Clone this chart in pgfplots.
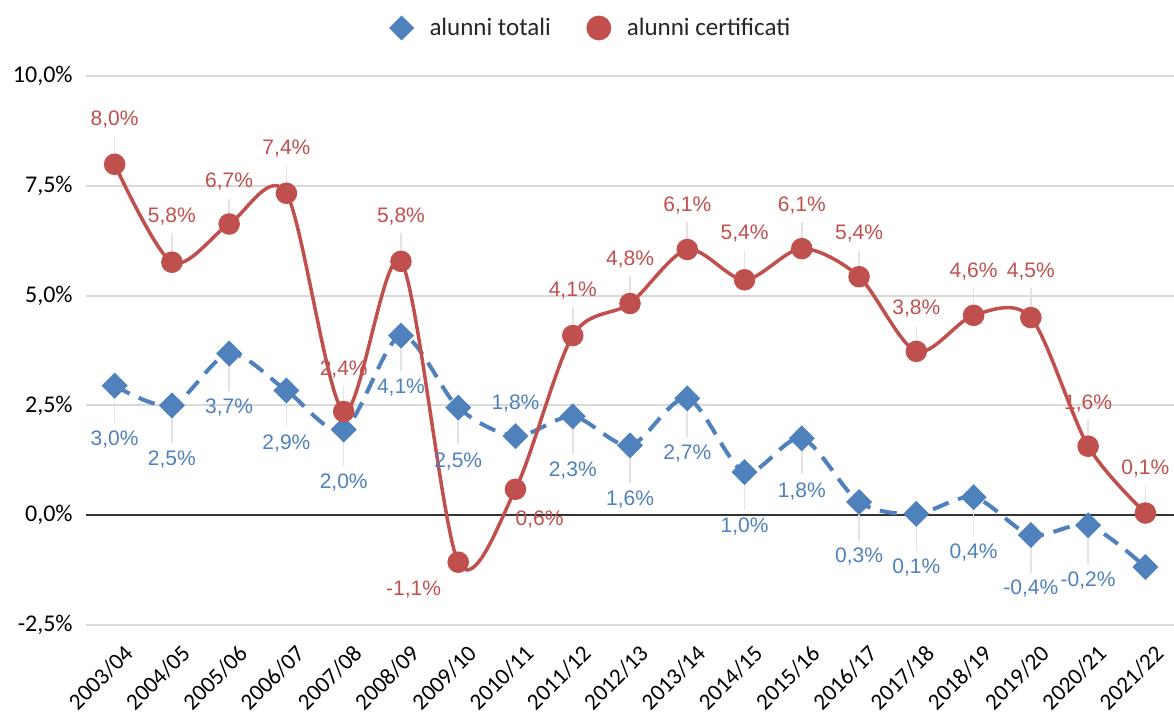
\documentclass[border=0pt]{standalone}
\usepackage{fontspec}
\setmainfont{Carlito}
\newfontfamily\labfont{Liberation Sans}
\usepackage{pgfplots}
\pgfplotsset{compat=1.18}
\usepackage{pgfplotstable}
\definecolor{cblue}{HTML}{4F81BD}
\definecolor{cred}{HTML}{C0504D}
\definecolor{cgrid}{HTML}{D9D9D9}
\definecolor{clead}{HTML}{E4E4E4}
\definecolor{ctext}{HTML}{262626}

\pgfplotstableread{
x y
0 2.95
1 2.50
2 3.68
3 2.84
4 1.95
5 4.09
6 2.45
7 1.80
8 2.25
9 1.59
10 2.66
11 0.98
12 1.75
13 0.30
14 0.03
15 0.41
16 -0.45
17 -0.23
18 -1.18
}\bluedata

\pgfplotstableread{
x y
0 7.99
1 5.76
2 6.63
3 7.33
4 2.36
5 5.78
6 -1.07
7 0.59
8 4.09
9 4.82
10 6.05
11 5.36
12 6.07
13 5.43
14 3.73
15 4.55
16 4.50
17 1.57
18 0.05
}\reddata

\pgfplotstableread{
x y t
0 9.02 8,0
1 6.80 5,8
2 7.59 6,7
3 8.34 7,4
4 3.32 2,4
5 6.80 5,8
5.22 -1.70 -1,1
7.42 -0.09 0,6
8 5.11 4,1
9 5.82 4,8
10 7.05 6,1
11 6.41 5,4
12 7.05 6,1
13 6.41 5,4
14 4.70 3,8
15 5.55 4,6
16 5.55 4,5
17 2.55 1,6
18 1.07 0,1
}\redlab

\pgfplotstableread{
x y t
0 1.73 3,0
1 1.27 2,5
2 2.45 3,7
3 1.64 2,9
4 0.75 2,0
5 2.90 4,1
6 1.23 2,5
7 2.55 1,8
8 1.02 2,3
9 0.36 1,6
10 1.41 2,7
11 -0.25 1,0
12 0.55 1,8
13 -0.95 0,3
14 -1.18 0,1
15 -0.84 0,4
16 -1.68 -0,4
17 -1.48 -0,2
}\bluelab

% leader lines: x, middle, half length
\pgfplotstableread{
x m e
0 8.32 0.32
1 6.10 0.32
2 6.93 0.28
3 7.65 0.31
4 2.65 0.29
5 6.10 0.32
8 4.41 0.32
9 5.13 0.31
10 6.36 0.31
11 5.69 0.33
12 6.37 0.30
13 5.72 0.30
14 4.03 0.30
15 4.86 0.31
16 4.84 0.33
17 1.87 0.30
18 0.37 0.32
}\redlead

\pgfplotstableread{
x m e
0 2.53 0.42
1 2.07 0.43
2 3.26 0.43
3 2.43 0.41
4 1.54 0.41
5 3.69 0.41
6 2.03 0.42
8 1.83 0.43
9 1.17 0.43
10 2.23 0.44
11 0.56 0.43
12 1.34 0.41
13 -0.14 0.44
14 -0.39 0.43
15 -0.03 0.44
16 -0.88 0.43
17 -0.67 0.44
}\bluelead

\begin{document}
\begin{tikzpicture}
\begin{axis}[
  name=ax,
  at={(0,0)}, anchor=south west,
  width=544pt, height=274.5pt, scale only axis,
  xmin=-0.5, xmax=18.5, ymin=-2.5, ymax=10,
  axis line style={draw=none},
  major tick length=0pt,
  xtick={0,...,18},
  xticklabels={2003/04,2004/05,2005/06,2006/07,2007/08,2008/09,2009/10,2010/11,2011/12,2012/13,2013/14,2014/15,2015/16,2016/17,2017/18,2018/19,2019/20,2020/21,2021/22},
  xticklabel style={rotate=45, anchor=north east, inner sep=0pt, xshift=-3.5pt, yshift=-9.2pt, font=\fontsize{11.6}{13}\selectfont, text=black},
  ytick={-2.5,0,2.5,5,7.5,10},
  yticklabels={{-2,5\%},{0,0\%},{2,5\%},{5,0\%},{7,5\%},{10,0\%}},
  yticklabel style={inner sep=0pt, xshift=-6.5pt, font=\fontsize{12}{14}\selectfont, text=black},
  ymajorgrids, major grid style={cgrid, line width=1pt},
  extra y ticks={0}, extra y tick labels={},
  extra y tick style={grid=major, major grid style={black!80, line width=1pt}},
  legend columns=2,
  legend style={at={(0.5,1)}, anchor=center, xshift=-19pt, yshift=24pt, draw=none, fill=none,
    font=\fontsize{12.5}{14}\selectfont, text=ctext,
    /tikz/every odd column/.append style={column sep=6pt},
    /tikz/every even column/.append style={column sep=16pt}},
]
% leader lines
\addplot[forget plot, draw=none, mark=none,
  error bars/.cd, y dir=both, y explicit, error mark=none,
  error bar style={clead, line width=0.8pt}]
  table[x=x, y=m, y error=e]{\redlead};
\addplot[forget plot, draw=none, mark=none,
  error bars/.cd, y dir=both, y explicit, error mark=none,
  error bar style={clead, line width=0.8pt}]
  table[x=x, y=m, y error=e]{\bluelead};
% series
\addplot[forget plot, cblue, line width=2pt, dash pattern=on 8.5pt off 5pt, smooth, tension=0.5,
  mark=square*, mark size=3.6pt, mark options={rotate=45, solid, fill=cblue, draw=cblue}]
  table[x=x, y=y]{\bluedata};
\addplot[forget plot, cred, line width=1.75pt, smooth, tension=0.5,
  mark=*, mark size=4.5pt, mark options={solid, fill=cred, draw=cred}]
  table[x=x, y=y]{\reddata};
% labels
\addplot[forget plot, draw=none, mark=none, point meta=explicit symbolic,
  nodes near coords={\pgfplotspointmeta\%}, nodes near coords align=center,
  every node near coord/.append style={inner sep=0pt, text=cred, font=\labfont\fontsize{10.5}{12}\selectfont}]
  table[x=x, y=y, meta=t]{\redlab};
\addplot[forget plot, draw=none, mark=none, point meta=explicit symbolic,
  nodes near coords={\pgfplotspointmeta\%}, nodes near coords align=center,
  every node near coord/.append style={inner sep=0pt, text=cblue, font=\labfont\fontsize{10.5}{12}\selectfont}]
  table[x=x, y=y, meta=t]{\bluelab};
% legend
\addlegendimage{only marks, mark=square*, mark size=4.2pt, mark options={rotate=45, fill=cblue, draw=cblue}}
\addlegendentry{alunni totali}
\addlegendimage{only marks, mark=*, mark size=6pt, mark options={fill=cred, draw=cred}}
\addlegendentry{alunni certificati}
\end{axis}
\pgfresetboundingbox
\path ([shift={(-43pt,-44pt)}]ax.south west) rectangle ([shift={(0pt,38pt)}]ax.north east);
\end{tikzpicture}
\end{document}
